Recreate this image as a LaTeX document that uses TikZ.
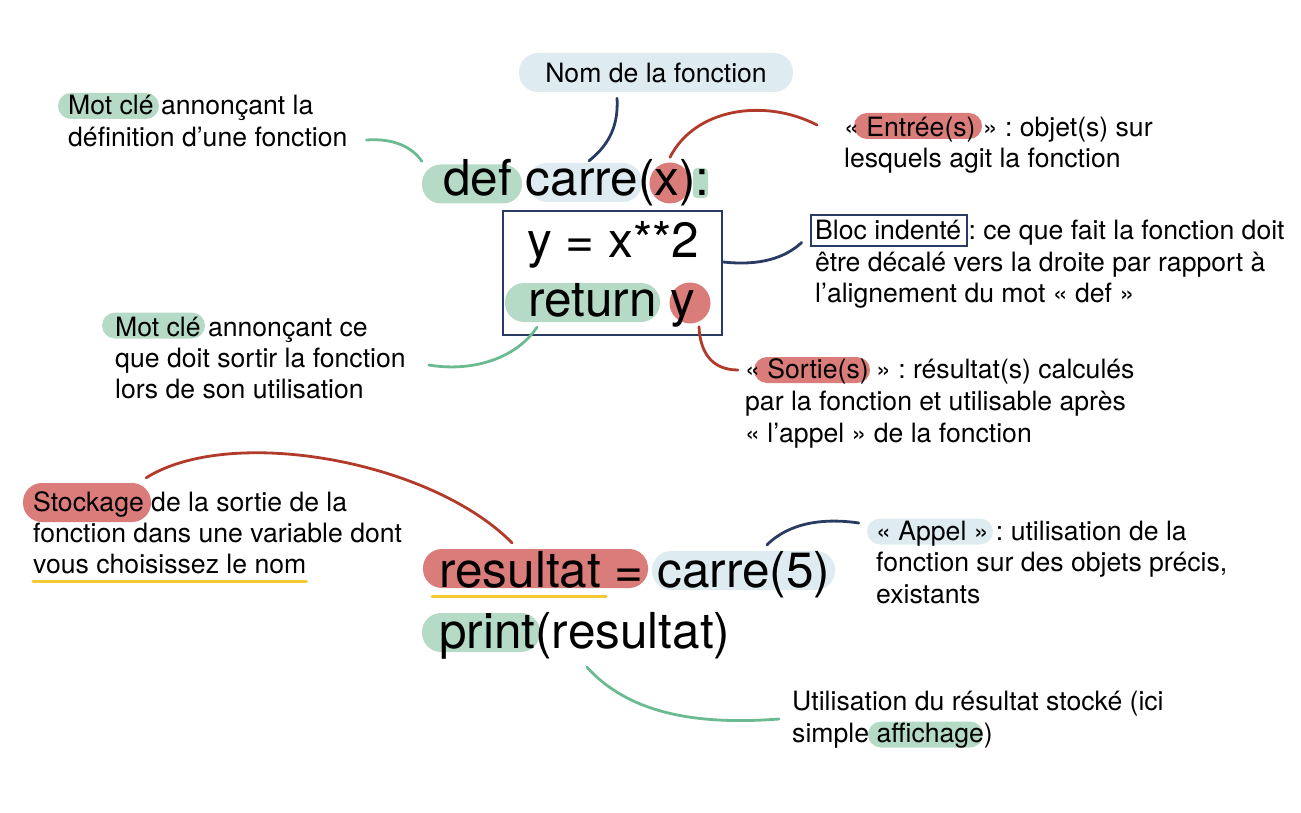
\documentclass[tikz,border=0pt]{standalone}
\usepackage{fontspec}
\setmainfont{TeX Gyre Heros}
\usepackage{xcolor}
\usepackage{tikz}
\usetikzlibrary{positioning}

\definecolor{kwgreen}{HTML}{B5DBC6}
\definecolor{fnblue}{HTML}{DEECF2}
\definecolor{iored}{HTML}{DA7C7A}
\definecolor{linkgreen}{HTML}{6CBA91}
\definecolor{linknavy}{HTML}{2A3B63}
\definecolor{linkred}{HTML}{B23A2A}
\definecolor{markyellow}{HTML}{F3C830}

\frenchspacing

\begin{document}
\begin{tikzpicture}[
  x=1pt, y=-1pt,
  note/.style={anchor=base west, inner sep=0pt, font=\fontsize{26.6}{31}\selectfont},
  code/.style={anchor=base west, inner sep=0pt, font=\fontsize{49.5}{58}\selectfont},
  pill/.style={inner sep=0pt, minimum height=26pt, rounded corners=13pt},
  bigpill/.style={inner sep=0pt, minimum height=39pt, rounded corners=19pt},
  kw/.style={fill=kwgreen},
  fn/.style={fill=fnblue},
  io/.style={fill=iored},
  dot/.style={circle, fill=iored, inner sep=0pt, minimum size=41pt},
  blockbox/.style={draw=linknavy, line width=2.6pt, inner sep=0pt},
  link/.style={line width=2.8pt, line cap=round},
  uline/.style={draw=markyellow, line width=3pt, line cap=round}
]
\useasboundingbox (0,0) rectangle (1301,813);

\node[bigpill, fn, minimum width=274pt, font=\fontsize{26.6}{31}\selectfont] (nom) at (656,72.5) {Nom de la fonction};

\node[bigpill, kw, minimum width=100pt] (defk) at (472,184) {};
\node[bigpill, fn, minimum width=114pt] (carre) at (585,182.5) {};
\node[dot] (xarg) at (670,183) {};
\node[inner sep=0pt, kw, minimum width=15pt, minimum height=30pt, rounded corners=4pt] (colon) at (700.5,183) {};
\node[blockbox, minimum width=219pt, minimum height=124pt] (block) at (612.5,273) {};
\node[bigpill, kw, minimum width=155pt] (ret) at (582.5,302.5) {};
\node[dot] (yarg) at (690,303) {};
\node[bigpill, io, minimum width=225pt] (res) at (535.5,568.5) {};
\node[bigpill, fn, minimum width=183pt] (call) at (743.5,570.5) {};
\node[bigpill, kw, minimum width=118pt] (printk) at (481,632.5) {};

\node[pill, kw, minimum width=101pt] (mc1k) at (108.5,106) {};
\node[pill, io, minimum width=128pt] (entree) at (918,126) {};
\node[blockbox, minimum width=156pt, minimum height=31pt] (bloc) at (889,230.5) {};
\node[pill, kw, minimum width=103pt] (mc2k) at (153.5,325.5) {};
\node[pill, io, minimum width=116pt] (sortie) at (812,370) {};
\node[bigpill, io, minimum width=128pt] (stockk) at (87,502.5) {};
\node[pill, fn, minimum width=126pt] (appel) at (930,531.5) {};
\node[pill, kw, minimum width=115pt] (affich) at (925.5,734.5) {};

\node[code] (line1) at (443,196) {def carre(x):};
\node[code] (line2) at (527,257) {y = x**2};
\node[code] (line3) at (528,316) {return y};
\node[code] (line4) at (439,587) {resultat = carre(5)};
\node[code] (line5) at (439,648) {print(resultat)};

\node[note] (mc1a) at (68,115) {Mot clé annonçant la};
\node[note] (mc1b) at (68,147) {définition d’une fonction};
\node[note] (en1) at (844,137) {« Entrée(s) » : objet(s) sur};
\node[note] (en2) at (844,168) {lesquels agit la fonction};
\node[note] (bl1) at (815,240) {Bloc indenté : ce que fait la fonction doit};
\node[note] (bl2) at (815,271) {être décalé vers la droite par rapport à};
\node[note] (bl3) at (815,302) {l’alignement du mot « def »};
\node[note] (mc2a) at (115,336) {Mot clé annonçant ce};
\node[note] (mc2b) at (115,367) {que doit sortir la fonction};
\node[note] (mc2c) at (115,398) {lors de son utilisation};
\node[note] (so1) at (745,378) {« Sortie(s) » : résultat(s) calculés};
\node[note] (so2) at (745,410) {par la fonction et utilisable après};
\node[note] (so3) at (745,442) {« l’appel » de la fonction};
\node[note] (st1) at (33,511) {Stockage de la sortie de la};
\node[note] (st2) at (33,542) {fonction dans une variable dont};
\node[note] (st3) at (33,573) {vous choisissez le nom};
\node[note] (ap1) at (876,540) {« Appel » : utilisation de la};
\node[note] (ap2) at (876,571) {fonction sur des objets précis,};
\node[note] (ap3) at (876,603) {existants};
\node[note] (ut1) at (792,710) {Utilisation du résultat stocké (ici};
\node[note] (ut2) at (792,742) {simple affichage)};

\draw[uline] ([yshift=-8pt]st3.base west) -- ([yshift=-8pt]st3.base east);
\draw[uline] (432,596) -- (606,596);

\draw[link, linknavy] ([xshift=-39pt,yshift=-6pt]nom.south) .. controls (619,130) and (605,148) .. ([xshift=4pt,yshift=2pt]carre.north);
\draw[link, linkgreen] ([xshift=19pt,yshift=7pt]mc1b.base east) .. controls (395,138) and (413,148) .. ([yshift=3pt]defk.north west);
\draw[link, linkred] ([yshift=5pt]xarg.north) .. controls (695,108) and (765,98) .. ([xshift=-27pt,yshift=12pt]en1.base west);
\draw[link, linknavy] ([yshift=11pt]block.east) .. controls (760,266) and (785,258) .. ([xshift=-8pt,yshift=-12pt]bloc.west);
\draw[link, linkgreen] ([xshift=-45.5pt,yshift=-5pt]ret.south) .. controls (515,360) and (470,372) .. ([xshift=23pt,yshift=2pt]mc2b.base east);
\draw[link, linkred] ([xshift=9pt,yshift=-3pt]yarg.south) .. controls (700,350) and (710,370) .. ([xshift=-7pt,yshift=8pt]so1.base west);
\draw[link, linkred] ([xshift=-23.5pt,yshift=6pt]res.north) .. controls (430,460) and (230,425) .. ([xshift=-5pt,yshift=5pt]stockk.north east);
\draw[link, linknavy] ([xshift=23.5pt,yshift=6pt]call.north) .. controls (790,522) and (825,518) .. ([xshift=-8pt,yshift=8.5pt]appel.west);
\draw[link, linkgreen] ([xshift=106pt,yshift=-15pt]printk.south) .. controls (630,715) and (700,725) .. ([xshift=-13pt,yshift=-9pt]ut1.base west);
\end{tikzpicture}
\end{document}
